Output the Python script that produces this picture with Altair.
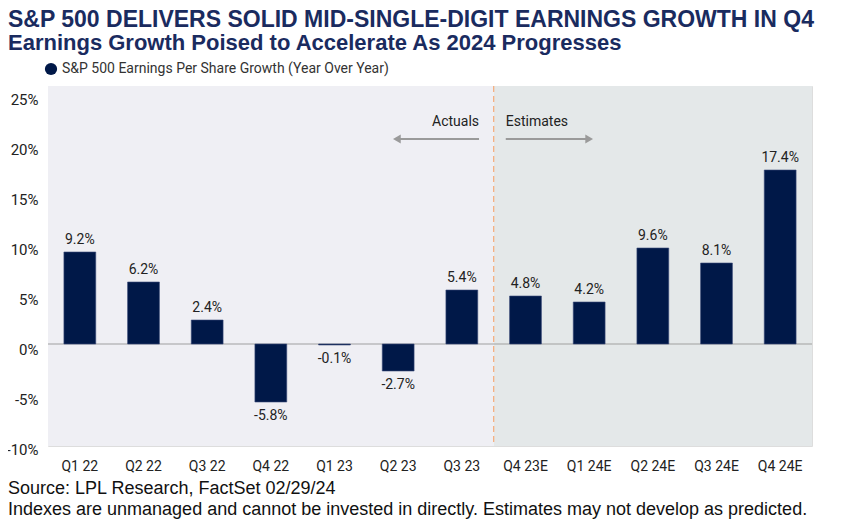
import altair as alt
import pandas as pd

quarters = ["Q1 22", "Q2 22", "Q3 22", "Q4 22", "Q1 23", "Q2 23", "Q3 23",
            "Q4 23E", "Q1 24E", "Q2 24E", "Q3 24E", "Q4 24E"]
growth = [9.2, 6.2, 2.4, -5.8, -0.1, -2.7, 5.4, 4.8, 4.2, 9.6, 8.1, 17.4]
series_name = "S&P 500 Earnings Per Share Growth (Year Over Year)"
y_ticks = [-10, -5, 0, 5, 10, 15, 20, 25]

region_start = [-0.5, 6.5]
region_end = [6.5, 11.5]
region_color = ["#EFEFF4", "#E4E8E9"]

arrow_from = [6.27, 6.69]
arrow_to = [4.98, 8.0]
arrow_shape = ["triangle-left", "triangle-right"]
arrow_label = ["Actuals", "Estimates"]
arrow_y = 20.5
arrow_text_y = 22.2
divider_x = 6.5

title_text = "S&P 500 DELIVERS SOLID MID-SINGLE-DIGIT EARNINGS GROWTH IN Q4"
subtitle_text = "Earnings Growth Poised to Accelerate As 2024 Progresses"
source_line1 = "Source: LPL Research, FactSet 02/29/24"
source_line2 = "Indexes are unmanaged and cannot be invested in directly. Estimates may not develop as predicted."

NAVY = "#001848"
TITLE_C = "#1A2B5F"
Y_DOMAIN = [-10.2, 25.8]
COND = "Roboto, sans-serif"

W, H = 764, 360

bars_df = pd.DataFrame({
    "quarter": quarters,
    "growth": growth,
    "label": [f"{v:.1f}%" for v in growth],
    "series": series_name,
})
region_df = pd.DataFrame({"x0": region_start, "x1": region_end, "c": region_color,
                          "ylo": Y_DOMAIN[0], "yhi": Y_DOMAIN[1]})
arrow_df = pd.DataFrame({"a": arrow_from, "b": arrow_to, "shape": arrow_shape,
                         "label": arrow_label, "y": arrow_y, "ty": arrow_text_y})

qscale = alt.Scale(domain=[-0.5, 11.5], nice=False, zero=False)
yscale = alt.Scale(domain=Y_DOMAIN, nice=False, zero=False)
xband = alt.Scale(domain=quarters, paddingInner=0.5, paddingOuter=0.25)
yaxis = alt.Axis(values=y_ticks, grid=False, ticks=False, domain=False,
                 labelExpr="datum.value + '%'", labelPadding=10, labelOffset=5,
                 labelFont="Roboto", labelFontSize=15, labelColor="#222222")


def Y(field):
    return alt.Y(field, scale=yscale, axis=yaxis, title=None)


bg = alt.Chart(region_df).mark_rect().encode(
    x=alt.X("x0:Q", scale=qscale, axis=None),
    x2="x1:Q",
    y=Y("ylo:Q"),
    y2="yhi:Q",
    color=alt.Color("c:N", scale=None),
)

zero = alt.Chart(pd.DataFrame({"z": [0]})).mark_rule(color="#A0A0A0", strokeWidth=1.2).encode(
    y=Y("z:Q")
)

divider = alt.Chart(pd.DataFrame({"d": [divider_x]})).mark_rule(
    color="#F4B183", strokeDash=[6, 4], strokeWidth=1.3
).encode(x=alt.X("d:Q", scale=qscale, axis=None))

arrow_lines = alt.Chart(arrow_df).mark_rule(color="#9A9A9A", strokeWidth=2).encode(
    x=alt.X("a:Q", scale=qscale, axis=None),
    x2="b:Q",
    y=Y("y:Q"),
)
arrow_heads = alt.Chart(arrow_df).mark_point(filled=True, color="#9A9A9A", opacity=1, size=80).encode(
    x=alt.X("b:Q", scale=qscale, axis=None),
    y=Y("y:Q"),
    shape=alt.Shape("shape:N", scale=None),
)
arrow_text_l = alt.Chart(arrow_df.iloc[[0]]).mark_text(
    align="right", baseline="middle", font=COND, fontSize=14, color="#222222"
).encode(
    x=alt.X("a:Q", scale=qscale, axis=None),
    y=Y("ty:Q"),
    text="label:N",
)
arrow_text_r = alt.Chart(arrow_df.iloc[[1]]).mark_text(
    align="left", baseline="middle", font=COND, fontSize=14, color="#222222"
).encode(
    x=alt.X("a:Q", scale=qscale, axis=None),
    y=Y("ty:Q"),
    text="label:N",
)

bars = alt.Chart(bars_df).mark_bar(stroke="#3A4A78", strokeWidth=0.6).encode(
    x=alt.X("quarter:N", sort=quarters, scale=xband, title=None,
            axis=alt.Axis(labelAngle=0, ticks=False, domain=False, labelPadding=13,
                          labelFont=COND, labelFontSize=14, labelColor="#222222")),
    y=Y("growth:Q"),
    color=alt.Color("series:N", scale=alt.Scale(range=[NAVY]),
                    legend=alt.Legend(title=None, orient="none", legendX=-4, legendY=-24,
                                      symbolType="circle", symbolSize=150, symbolStrokeWidth=0,
                                      labelFont=COND, labelFontSize=14, labelColor="#333333",
                                      labelLimit=0, padding=0)),
)

pos_labels = alt.Chart(bars_df).transform_filter("datum.growth >= 0").mark_text(
    baseline="bottom", dy=-5, font="Roboto", fontSize=14, color="#222222"
).encode(
    x=alt.X("quarter:N", sort=quarters, scale=xband, axis=None),
    y=Y("growth:Q"),
    text="label:N",
)
neg_labels = alt.Chart(bars_df).transform_filter("datum.growth < 0").mark_text(
    baseline="top", dy=7, font="Roboto", fontSize=14, color="#222222"
).encode(
    x=alt.X("quarter:N", sort=quarters, scale=xband, axis=None),
    y=Y("growth:Q"),
    text="label:N",
)


def text_line(txt, y, size, weight, color):
    return alt.Chart(pd.DataFrame({"t": [txt]})).mark_text(
        align="left", baseline="middle", font="Liberation Sans", fontSize=size,
        fontWeight=weight, color=color
    ).encode(x=alt.value(-40), y=alt.value(y), text="t:N")


title = text_line(title_text, -66, 23, "bold", TITLE_C)
subtitle = text_line(subtitle_text, -43, 22, "bold", TITLE_C)
source1 = text_line(source_line1, H + 42.5, 18, "normal", "#111111")
source2 = text_line(source_line2, H + 63.5, 18, "normal", "#111111")

chart = alt.layer(
    bg, zero, divider, arrow_lines, arrow_heads, arrow_text_l, arrow_text_r,
    bars, pos_labels, neg_labels, title, subtitle, source1, source2
).resolve_scale(x="independent").properties(
    width=W, height=H,
    padding={"left": 40, "top": 78, "right": 27, "bottom": 75},
    autosize=alt.AutoSizeParams(type="none"),
).configure_view(stroke=None).configure(background="white")

chart.save("out.html", embed_options={"renderer": "svg", "actions": False})
